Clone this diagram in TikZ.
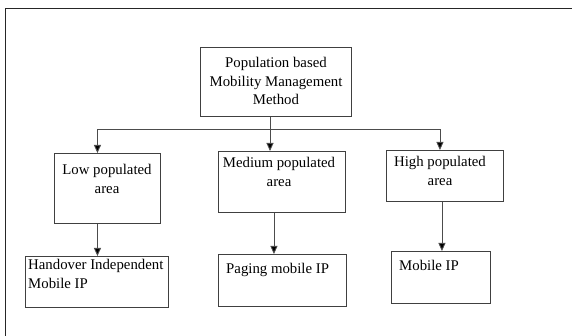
\documentclass[tikz,border=0pt]{standalone}
\usepackage{fontspec}
\setmainfont{Liberation Serif}
\usetikzlibrary{arrows.meta}
\begin{document}
\begin{tikzpicture}[x=1pt,y=-1pt,
  box/.style={draw=black!75,line width=0.9pt,inner sep=0pt,anchor=north west},
  txt/.style={font=\fontsize{14.8}{18.5}\selectfont,inner sep=0pt,align=center},
  ltxt/.style={font=\fontsize{14.8}{18.5}\selectfont,inner sep=0pt,align=left,anchor=north west},
  conn/.style={draw=black!70,line width=0.9pt},
  arr/.style={conn,-{Triangle[length=8pt,width=7pt,fill=black]}}]
\useasboundingbox (0,0) rectangle (572,336);
\draw[black!85,line width=0.9pt] (572,8) -- (5,8) -- (5,336);
% boxes
\node[box,minimum width=151pt,minimum height=69pt] (top) at (200,47) {};
\node[box,minimum width=106pt,minimum height=70pt] (low) at (54,153) {};
\node[box,minimum width=127pt,minimum height=61pt] (med) at (218,151) {};
\node[box,minimum width=117pt,minimum height=51pt] (high) at (386,150) {};
\node[box,minimum width=143pt,minimum height=51pt] (ho) at (25,256) {};
\node[box,minimum width=128pt,minimum height=52pt] (pg) at (218,254) {};
\node[box,minimum width=99pt,minimum height=52pt] (mip) at (391,251) {};
% texts
\node[txt] (ttop) at (276,81) {Population based\\Mobility Management\\Method};
\node[txt] (tlow) at (107,179) {Low populated\\area};
\node[txt] (tmed) at (279,172) {Medium populated\\area};
\node[txt] (thigh) at (440,171) {High populated\\area};
\node[ltxt] (tho) at (28,259.5) {Handover Independent\\Mobile IP};
\node[ltxt] (tpg) at (226,263) {Paging mobile IP};
\node[ltxt] (tmip) at (399,260) {Mobile IP};
% connectors
\coordinate (j) at (270,129);
\draw[conn] (top.south -| j) -- (j);
\draw[arr] (j) -- (j |- med.north);
\draw[arr] (j) -| ([xshift=-10pt]low.north);
\draw[arr] (j) -| ([xshift=-5pt]high.north);
\draw[arr] ([xshift=-10pt]low.south) -- ([xshift=-10pt]low.south |- ho.north);
\draw[arr] ([xshift=-8pt]med.south) -- ([xshift=-8pt]med.south |- pg.north);
\draw[arr] ([xshift=-3pt]high.south) -- ([xshift=-3pt]high.south |- mip.north);
\end{tikzpicture}
\end{document}
